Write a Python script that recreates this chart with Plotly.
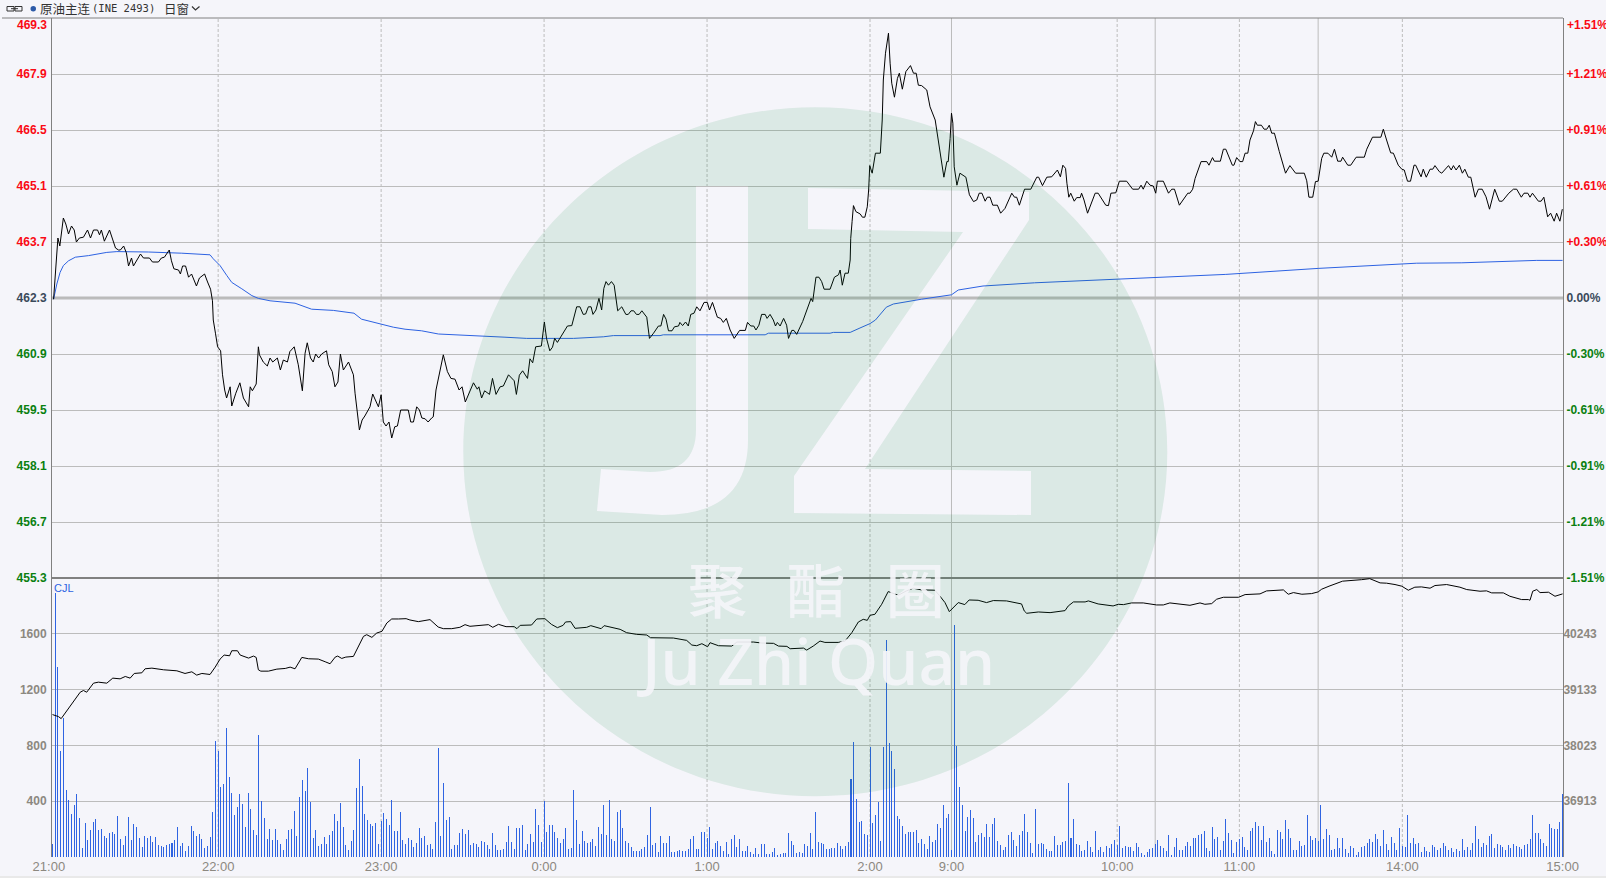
import plotly.graph_objects as go

# ---------- data ----------
volume = [96,1890,1360,760,995,480,410,308,372,452,280,62,243,120,192,250,272,192,200,150,135,170,178,164,294,128,84,150,287,120,236,214,135,70,150,135,150,106,142,84,77,70,84,92,99,120,214,77,99,41,77,222,186,150,164,128,63,77,142,323,829,757,504,525,923,576,460,301,359,453,381,214,460,345,193,157,872,402,280,128,200,120,200,120,92,48,128,193,200,330,150,431,554,475,641,395,135,193,77,92,142,92,157,186,308,258,388,214,84,48,113,193,496,706,511,308,265,236,222,243,92,258,316,272,229,410,186,186,
 325,122,94,137,122,72,101,209,137,151,86,94,58,252,778,151,533,266,288,58,86,86,173,202,166,194,86,101,94,72,115,108,86,58,173,86,50,50,58,108,223,108,58,209,209,230,50,94,166,108,346,230,108,403,180,230,230,180,137,101,130,209,58,65,482,266,94,187,115,101,108,130,79,216,166,374,158,410,130,115,324,338,209,115,101,72,43,43,43,58,72,158,360,86,101,36,151,101,101,151,36,36,43,50,43,43,58,130,151,58,58,180,180,137,216,58,101,115,79,43,108,22,130,158,72,130,43,43,79,36,22,65,22,94,94,22,22,36,65,14,22,29,29,173,115,86,29,36,
 29,94,79,173,58,324,108,101,94,58,58,65,65,101,79,58,79,108,562,821,418,252,259,166,158,792,245,302,396,115,792,1555,814,763,634,295,274,223,166,180,180,180,194,101,130,94,58,151,108,122,238,209,374,281,310,50,1663,799,504,374,187,288,338,281,108,158,173,144,238,144,238,281,115,86,50,72,158,180,122,79,158,187,310,180,101,29,346,94,101,94,58,43,43,151,86,86,108,115,533,137,274,94,86,43,50,115,72,36,187,50,72,36,79,65,94,122,86,223,65,79,72,72,43,101,72,29,14,36,58,65,94,122,79,65,43,158,14,72,137,50,50,
 79,108,79,137,137,158,166,187,65,43,216,130,144,50,115,274,173,122,29,108,130,144,72,50,187,209,252,223,122,223,108,137,43,22,194,180,130,266,202,137,50,50,115,79,86,302,151,122,137,115,374,130,202,158,50,58,137,65,137,58,29,79,65,14,36,72,79,101,130,108,166,130,79,
 193,92,48,142,99,48,207,77,70,301,99,135,92,99,34,70,41,34,84,70,48,63,99,77,48,63,34,55,41,128,48,70,48,99,222,128,70,99,84,149,164,63,92,84,70,48,84,63,92,77,70,55,84,92,128,301,171,171,128,99,77,236,207,200,200,250,453]

price_points = [
 (0.4,462.27),(1.1,462.88),(1.6,463.48),(2,463.8),(2.7,463.6),(3.3,463.94),(4,464.3),(4.9,464.15),(5.9,463.9),(7,464.1),(8,464.0),(8.8,463.7),(9.9,463.8),(11.4,463.82),(12.9,464.0),(14,463.8),(15.1,464),(16.6,464),(17.3,463.88),(18,464),(19.1,463.72),(21,464),(22.1,463.8),(23.2,463.55),(24.3,463.5),(25,463.5),(26.2,463.6),(27.2,463.43),(28,463.1),(29.1,463.3),(29.8,463.1),(30.9,463.22),(32.4,463.4),(33.5,463.3),(35.7,463.3),(36.8,463.2),(39,463.2),(40.1,463.3),(41.2,463.32),(43,463.5),(43.8,463.23),(44.7,463.03),(46.4,463),(47.1,462.9),(47.9,463.1),(49,463.1),(50.1,462.82),(51.2,462.9),(52.3,462.7),(53,462.6),(54.1,462.8),(56,462.9),(57.1,462.7),(58.2,462.52),(58.9,462.23),
 (59.2,461.75),(60,461.42),(60.8,461.08),(61.9,460.98),(62.6,460.38),(63.4,460),(64.1,459.8),(65.4,460.08),(66,459.6),(67.5,459.92),(69,460.18),(70.3,459.8),(72.2,459.58),(72.8,460.08),(73.6,459.98),(75,460.15),(75.4,460.5),(75.8,461.08),(76.2,460.88),(77.6,460.7),(79.1,460.6),(80.1,460.8),(81.1,460.7),(82.8,460.8),(83.9,460.5),(85,460.75),(86.5,460.7),(87.4,460.96),(89,461.08),(90.5,460.63),(92,459.98),(93,460.92),(93.8,461.18),(95,460.8),(96,460.7),(96.9,460.9),(98,460.8),(99.1,460.9),(100.9,460.98),(101.7,460.63),(103,460.46),(104,460.08),(105.1,460.2),(106,460.9),(107.1,460.5),(109,460.7),(110.8,460.38),(111.4,459.92),(113,459),(114,459.25),(115,459.35),(116.9,459.58),(117.9,459.9),(120,459.58),(121,459.88),(121.8,459.2),(122.8,459.1),(123.9,459.2),(124.9,458.8),(126,459.08),(127,459.1),(128.2,459.5),(131,459.5),(131.9,459.2),(132.9,459.2),(134.1,459.58),(135.1,459.5),(136,459.3),(137.2,459.28),(138.3,459.2),(139.6,459.3),(140.2,459.33),(141.2,460),
 (142.7,460.48),(143.9,460.88),(145.4,460.46),(146.7,460.29),(148.2,460.27),(149.7,460),(150.8,460.08),(152,459.7),(155,460.18),(156.4,460.02),(157,460.08),(158,459.8),(159.1,459.98),(160.9,459.89),(162,460.29),(163.3,459.89),(164.8,460.08),(166,460.1),(167.9,460.38),(170,460.23),(170.8,459.89),(171.9,460.37),(173.1,460.48),(174.9,460.29),(175.8,460.78),(176.8,460.68),(177.9,461.08),(180,461.1),(181.1,461.7),(181.9,461.29),(183.1,460.98),(184.1,461.07),(184.9,461.29),(185.9,461.19),(189.6,461.6),(191.2,461.61),(193,462.08),(194.2,462.08),(195.4,461.89),(196.3,461.9),(197.3,462.08),(198.3,462.08),(199,461.89),(200.1,462),(201.2,462.29),(202.2,462),(203,462.54),(203.8,462.71),(204.7,462.62),(205.8,462.71),(206.8,462.62),(207.4,462.31),(208.1,461.98),(209.6,462.08),(211.1,461.89),(212,461.89),(213,461.98),(214,461.98),(215,461.89),(216,461.89),(217,461.98),(218.8,461.82),(219.8,461.29),(221.3,461.42),(223.1,461.6),(224,461.6),(225,461.89),(225.9,461.77),(226.8,461.48),(228.1,461.48),(229,461.58),(230.5,461.6),(231,461.69),(232,461.61),(233.1,461.7),(234.1,461.6),(235,461.89),(236.2,461.92),(237.2,462.08),(238.4,461.98),(239.9,462.19),(241.1,462.19),(241.9,462),(243,462.19),(244.8,461.82),(246,461.79),(247,461.69),(248.1,461.79),(249.5,461.5),(251,461.29),(253,461.49),(255.1,461.49),(255.9,461.69),(257.1,461.6),(258.2,461.6),(259,461.5),(260.1,461.62),(261.1,461.89),(262.4,461.89),(263.1,461.79),(264.2,461.89),(265.4,461.75),(266.2,461.6),(266.9,461.69),(267.9,461.6),(269.2,461.79),(270.3,461.62),(271,461.29),(272.2,461.49),(273,461.49),(274,461.39),(276.2,461.71),(277.7,462),(279.3,462.29),(279.9,462.21),(281.1,462.82),(282.2,462.82),(283.2,462.71),(284.1,462.52),(286.3,462.52),(287.9,462.82),(289.4,462.88),(290,463),(290.8,462.62),(291.8,462.92),(293,462.92),(293.7,463.25),
 (293.9,463.79),(294.4,464.21),(294.9,464.61),(295.8,464.46),(297.4,464.4),(298.2,464.32),(299.1,464.32),(300,464.58),(300.5,465),(300.9,465.61),(301.8,465.42),(303,465.92),(304.8,465.92),(305.5,466.75),(305.9,467.75),(306.7,468.42),(307.2,468.67),(307.8,468.92),(308.4,468.17),(309,467.67),(310,467.32),(311.1,467.79),(311.8,467.92),(312.9,467.52),(314.2,467.96),(315.9,468.11),(317,467.92),(318,467.92),(318.8,467.62),(320,467.61),(321.9,467.5),(323.1,467.08),(325,466.75),(326.2,466.21),(327.1,465.83),(328.2,465.32),(329.3,465.71),(329.8,465.71),(330.5,466.29),(331,466.92),(331.5,466.67),(332,465.58),(333,465.12),(334.1,465.42),(336.3,465.32),(337.6,464.88),(339.1,464.71),(340.3,464.75),(341.2,464.92),(342.2,464.92),(343.4,464.72),(344.2,464.82),(345.2,464.82),(346.2,464.62),(347.9,464.62),(349.1,464.42),(350.7,464.54),(353.2,464.92),(354.2,464.82),(355,464.82),(356,464.62),(357.9,465.02),(360.2,465.02),(362.4,465.32),(363.1,465.32),(364.5,465.11),(366.1,465.32),(367.9,465.33),(370,465.5),(371.1,465.33),(372,465.62),(373,465.54),(373.5,465.17),(374.2,464.82),(374.9,464.92),(376.2,464.72),(377.1,464.81),(378.4,464.81),
 (378.9,464.92),(379.8,464.75),(381.1,464.42),(382.6,464.67),(383.9,464.92),(385,464.92),(386.3,464.79),(387.8,464.62),(388.8,464.61),(389.7,464.92),(391.5,464.93),(392.4,465.12),(392.8,465.22),(395.5,465.22),(397.7,465.02),(399.9,465.02),(400.8,465.12),(401.6,465.02),(402.9,465.22),(404.1,465.12),(405.3,465.1),(406.2,464.92),(406.8,465.22),(409,465.22),(410.9,464.92),(412.1,465.02),(413.1,465.02),(414.9,464.62),(418,464.92),(418.8,464.92),(419.8,465.02),(420.7,465.29),(422.9,465.71),(425,465.71),(425.8,465.62),(427.1,465.81),(427.8,465.72),(430,465.72),(431.1,466.02),(432,466.02),(434.4,465.62),(435,465.62),(436,465.81),(437.2,465.71),(438.2,465.71),(439.1,465.92),(440.1,465.92),(440.9,466.25),(442.2,466.48),(442.9,466.71),(443.6,466.62),(445.1,466.62),(446.1,466.52),(447.1,466.52),(448,466.62),(448.9,466.42),(449.9,466.42),(451.7,465.96),(454,465.42),(455.6,465.61),(457.7,465.42),(460.9,465.42),(461.8,465.23),(462.6,464.82),(464,464.82),(465,465.21),(466,465.22),(467.3,465.79),(468.1,465.92),(469.6,465.92),(471,465.82),(472,466.02),(473.2,465.72),(474.4,465.72),(475,465.82),(476.9,465.62),(478,465.62),(480,465.82),(483,465.82),(483.9,466.02),(486,466.32),(489.1,466.32),(490,466.52),(491.2,466.25),(492.7,465.93),(493.7,465.92),(495.5,465.62),(496.8,465.52),(497.7,465.5),(498.9,465.22),(500,465.22),(501.3,465.62),(501.9,465.62),(503.9,465.33),(504.7,465.52),(505.8,465.32),(507.2,465.52),(508.2,465.52),(509,465.61),(510.6,465.46),
 (511.5,465.42),(514,465.61),(515,465.5),(515.8,465.61),(516.8,465.5),(518,465.62),(519.1,465.42),(520,465.52),(521.3,465.32),(522.2,465.32),(523.8,464.82),(525,465.02),(526.4,465.02),(527.8,464.83),(529.1,464.52),(531,465.02),(532.7,464.72),(533.8,464.72),(536.2,464.92),(537.9,465.02),(539.1,465.02),(540.8,464.82),(541.8,464.92),(543.2,464.92),(544,464.82),(544.9,464.92),(547.1,464.72),(548.1,464.72),(549.1,464.82),(550.5,464.33),(551.6,464.42),(552.9,464.22),(553.8,464.42),(555,464.22),(555.9,464.52)]

average_points = [
 (0.4,462.27),(1.6,462.65),(2.8,462.94),(4,463.11),(5.9,463.23),(8.4,463.32),(13.3,463.36),(20,463.44),(23.7,463.46),(35.3,463.45),(47.6,463.42),(58,463.38),(59.2,463.28),(61.7,463.11),(64.2,462.86),(66,462.69),(69.7,462.53),(73.4,462.36),(75.8,462.29),(80.1,462.23),(89.3,462.17),(95.4,462.02),(103.4,461.99),(111,461.92),(113.8,461.77),(121.2,461.65),(125.5,461.57),(129.8,461.52),(135.9,461.48),(142.1,461.4),
 (145.8,461.39),(157.4,461.35),(166.6,461.32),(174.6,461.29),(191.8,461.29),(202.8,461.33),(206.5,461.36),(223.7,461.36),(224.9,461.38),(262.4,461.38),(263.6,461.42),(286.3,461.42),(287.5,461.44),(293.7,461.44),(295.5,461.5),(297.3,461.55),(301,461.66),(303,461.75),(307,462.07),(309.6,462.15),(320,462.27),(331,462.38),(333.5,462.5),(342.6,462.6),(361.6,462.68),(395,462.78),(407,462.8),(432,462.89),(466,463.04),(488.8,463.11),(494.9,463.14),(502.3,463.17),(518.9,463.18),(531.8,463.21),(546.5,463.24),(556,463.24)]

open_interest_points = [
 (0,38636),(2.2,38596),(3.2,38556),(5.3,38716),(7.7,38895),(10.2,39081),(11.4,39115),(12.6,39081),(15.1,39261),(16.9,39281),(20,39261),(22.2,39361),(24.9,39347),(26.8,39394),(28.6,39361),(30.1,39454),(32.9,39467),(34.1,39547),(36.6,39560),(40.9,39527),(45.8,39507),(48.8,39454),(51.3,39487),(53.1,39421),(55,39454),(58,39434),(59.9,39580),(61.7,39740),(63.2,39820),(65.2,39806),(66,39906),(68.1,39906),(69.1,39820),(72.2,39760),(74,39800),(75,39773),(75.8,39527),(76.7,39500),(79.5,39500),(82.6,39540),(85.7,39554),(87.5,39580),(89.3,39547),(91.8,39773),(94.3,39746),(97.9,39740),(100.4,39687),(102.2,39647),(104.1,39780),(105,39800),(106.5,39753),(108,39780),(110.8,39793),(112.7,39993),(114.5,40192),(115.7,40225),(117.6,40172),(119.4,40259),(121.3,40292),(123.1,40458),(124.9,40538),(127.4,40538),
 (130.2,40544),(131.6,40518),(134.7,40485),(139,40525),(142,40378),(143.9,40345),(147,40345),(150,40372),(151.9,40425),(153.7,40392),(160.5,40425),(162.1,40372),(164.2,40431),(167,40385),(170,40385),(171,40345),(172.2,40411),(176.4,40418),(178.3,40538),(181.3,40544),(183.7,40431),(185.9,40365),(188,40411),(188.9,40478),(190.8,40485),(192.4,40352),(196.7,40372),(198.2,40405),(202,40345),(203.1,40405),(206.6,40365),(209,40332),(211.4,40265),(215.1,40232),(218.8,40219),(220.2,40165),(228.6,40159),(233.5,40112),(235.4,40019),(237.2,40006),(239.1,40046),(241.2,39986),(242.1,40066),(245.2,40006),(250.1,39999),(252,40079),(258.1,40079),(261.2,40059),(265.5,40053),(267.3,39999),(270.4,39993),(271.6,39946),(276.5,39959),(277.7,39919),(280.1,39999),(282.6,40099),(284.4,40072),(289.3,40072),(291.8,40099),(294.3,40265),(296.7,40478),(298.5,40531),(300,40511),(301,40611),(302.8,40631),(305.3,40830),(307.7,41083),(311.4,41010),(314.4,41096),(316.9,41150),(319.9,41116),(324.9,41110),(326.7,40996),(328.6,40864),(330.2,40684),(331.6,40764),(333.5,40864),(335.9,40824),(337.5,40916),(340.8,40910),(343.9,40864),(346.4,40904),(351.3,40897),(356.8,40837),(357.8,40697),(358.7,40651),(363,40677),(367.3,40664),(372.8,40704),(374,40797),(375.9,40877),(380.2,40877),(381.4,40897),(385,40837),(390.5,40797),(392.4,40830),(394.3,40823),(397.3,40857),(401.6,40857),(406.5,40817),(409,40817),(411.4,40857),(415.1,40837),(418.8,40810),(422.5,40857),(424.3,40830),(426.8,40843),(428.6,40930),(431.1,40970),(436.7,40970),(439.1,41023),(444.6,41037),(447,41096),(453.2,41116),(455,41030),(456.9,41063),(460,41030),(463.6,41043),(466,41076),(467.3,41130),(470,41190),(475,41290),(482,41320),(485,41340),(488.8,41256),(491.2,41250),(494.3,41223),(496.8,41190),(499.2,41110),(501.6,41170),(504,41176),(507.2,41150),(509,41203),(513.3,41223),(518.2,41170),(520.7,41123),(525.6,41090),(528,41097),(529.9,41057),(534.2,41057),(536.6,40990),(540.9,40924),(543.4,40924),(544,40910),(545,41090),(546.5,41123),(547.7,41063),(550.8,41070),(553.2,40990),(556,41037)]

time_ticks = [0,61,121,181,241,301,331,392,437,497,556]
time_labels = ["21:00  ","22:00","23:00","0:00","1:00","2:00","9:00","10:00","11:00","14:00","15:00"]
dashed_minutes = [61,121,181,241,301,392,437,497]
solid_minutes = [331,406,466]

price_ticks = [467.9,466.5,465.1,463.7,462.3,460.9,459.5,458.1,456.7,455.3]
price_labels = ["467.9","466.5","465.1","463.7","462.3","460.9","459.5","458.1","456.7","455.3"]
percent_labels = ["+1.21%","+0.91%","+0.61%","+0.30%","0.00%","-0.30%","-0.61%","-0.91%","-1.21%","-1.51%"]
volume_ticks = [400,800,1200,1600]
volume_labels = ["400","800","1200","1600"]
oi_ticks = [36913,38023,39133,40243]
oi_labels = ["36913","38023","39133","40243"]
base_price = 462.3

# ---------- styling ----------
BG = "#f5f5fa"
GRID = "#bcbcbc"
AXIS = "#808080"
BLUE = "#2d62e2"
RED = "#fa0a14"
GREEN = "#0a8010"
DARK = "#3a4a5a"
GREY = "#8c8880"
W, H = 1606, 878
L, R, T, B = 52, 43, 18, 21
PW, PH = W - L - R, H - T - B
SPLIT = (857 - 578) / PH

def px(x):
    return (x - L) / PW
def py(y):
    return (H - B - y) / PH
def P(x, y):
    return f"{px(x):.5f},{py(y):.5f}"

def coloured(texts, values):
    out = []
    for t, v in zip(texts, values):
        c = RED if v > base_price else (GREEN if v < base_price else DARK)
        out.append(f'<span style="color:{c}">{t}</span>')
    return out

fig = go.Figure()
fig.add_trace(go.Bar(x=list(range(len(volume))), y=volume, xaxis="x", yaxis="y2", width=0.37,
                     marker=dict(color="rgba(45,98,226,0.99)", line=dict(width=0))))
fig.add_trace(go.Scatter(x=[p[0] for p in open_interest_points], y=[p[1] for p in open_interest_points],
                         xaxis="x", yaxis="y4", mode="lines", line=dict(color="#000000", width=1)))
fig.add_trace(go.Scatter(x=[p[0] for p in average_points], y=[p[1] for p in average_points],
                         xaxis="x", yaxis="y", mode="lines", line=dict(color=BLUE, width=1)))
fig.add_trace(go.Scatter(x=[p[0] for p in price_points], y=[p[1] for p in price_points],
                         xaxis="x", yaxis="y", mode="lines", line=dict(color="#000000", width=1)))

shapes = []
for m in dashed_minutes:
    shapes.append(dict(type="line", xref="x", yref="paper", x0=m, x1=m, y0=0, y1=1, layer="below",
                       line=dict(color=GRID, width=1, dash="3px,2px")))
for m in solid_minutes:
    shapes.append(dict(type="line", xref="x", yref="paper", x0=m, x1=m, y0=0, y1=1, layer="below",
                       line=dict(color=GRID, width=1)))
shapes.append(dict(type="line", xref="paper", yref="y", x0=0, x1=1, y0=base_price, y1=base_price, layer="below",
                   line=dict(color="#bababa", width=3)))
shapes.append(dict(type="line", xref="paper", yref="paper", x0=0, x1=1, y0=SPLIT, y1=SPLIT, layer="below",
                   line=dict(color=AXIS, width=2)))
# frame
shapes.append(dict(type="line", xref="paper", yref="paper", x0=px(2), x1=1, y0=1, y1=1, layer="below",
                   line=dict(color=AXIS, width=1)))
shapes.append(dict(type="rect", xref="paper", yref="paper", x0=px(0), x1=px(W), y0=py(876), y1=py(878), layer="below",
                   line=dict(width=0), fillcolor="#e9e9e9"))
# header icons
shapes.append(dict(type="rect", xref="paper", yref="paper", x0=px(7), x1=px(14), y0=py(11), y1=py(6.5),
                   line=dict(color="#333333", width=1), fillcolor="rgba(0,0,0,0)"))
shapes.append(dict(type="rect", xref="paper", yref="paper", x0=px(15), x1=px(22), y0=py(11), y1=py(6.5),
                   line=dict(color="#333333", width=1), fillcolor="rgba(0,0,0,0)"))
shapes.append(dict(type="line", xref="paper", yref="paper", x0=px(11), x1=px(18), y0=py(8.7), y1=py(8.7),
                   line=dict(color="#333333", width=1)))
shapes.append(dict(type="circle", xref="paper", yref="paper", x0=px(30.5), x1=px(36), y0=py(11.5), y1=py(6),
                   line=dict(width=0), fillcolor="#2c5aa8"))
shapes.append(dict(type="path", xref="paper", yref="paper",
                   path=f"M{P(192,6.5)} L{P(195.5,10)} L{P(199.5,6.5)}",
                   line=dict(color="#333333", width=1.2), fillcolor="rgba(0,0,0,0)"))

# watermark: translucent ellipse with the letters J and Z cut out
cx, cy, rx, ry = 815.3, 451.7, 352, 344.5
k = 0.5523
ellipse = (f"M{P(cx-rx,cy)} C{P(cx-rx,cy-k*ry)} {P(cx-k*rx,cy-ry)} {P(cx,cy-ry)} "
           f"C{P(cx+k*rx,cy-ry)} {P(cx+rx,cy-k*ry)} {P(cx+rx,cy)} "
           f"C{P(cx+rx,cy+k*ry)} {P(cx+k*rx,cy+ry)} {P(cx,cy+ry)} "
           f"C{P(cx-k*rx,cy+ry)} {P(cx-rx,cy+k*ry)} {P(cx-rx,cy)} Z")
letter_j = (f"M{P(696,186)} L{P(748,186)} L{P(748,440)} Q{P(748,515)} {P(662,515)} "
            f"L{P(597,511)} L{P(601,469)} L{P(650,472)} Q{P(696,472)} {P(696,430)} Z")
letter_z = (f"M{P(808,188)} L{P(1029,192)} L{P(1029,220)} L{P(865,469)} L{P(1031,471)} "
            f"L{P(1031,515)} L{P(794,513)} L{P(794,476)} L{P(963,232)} L{P(808,229)} Z")
shapes.append(dict(type="path", xref="paper", yref="paper", layer="above", fillrule="evenodd",
                   path=ellipse + " " + letter_j + " " + letter_z,
                   fillcolor="rgba(0,135,55,0.105)", line=dict(width=0)))

def note(text, x, y, size, color, anchor="left", font="Liberation Sans", weight=None):
    f = dict(size=size, color=color, family=font)
    if weight:
        f["weight"] = weight
    return dict(text=text, xref="paper", yref="paper", x=px(x), y=py(y), xanchor=anchor, yanchor="middle",
                showarrow=False, font=f, borderpad=0, borderwidth=0)

MARK = "rgba(244,244,249,0.92)"
annotations = [
    note("469.3", 46.5, 24.6, 12, RED, "right", weight="bold"),
    note("+1.51%", 1567, 24.6, 12, RED, "left", weight="bold"),
    note("CJL", 54, 588, 11, BLUE),
    note("原油主连", 40, 8, 12.5, "#333333", font="Noto Sans CJK SC"),
    note("(INE 2493)", 92, 8, 10.5, "#333333", font="DejaVu Sans Mono"),
    note("日窗", 164, 8, 12.5, "#333333", font="Noto Sans CJK SC"),
    note("聚\u00a0\u00a0\u00a0酯\u00a0\u00a0\u00a0圈", 816, 587, 59, MARK, "center", font="Noto Sans CJK SC", weight=500),
    note("Ju Zhi Quan", 816, 660, 64, MARK, "center", font="Noto Sans", weight=500),
]

tickfont = dict(family="Liberation Sans", size=12, color=GREY, weight="bold")
fig.update_layout(
    width=W, height=H, autosize=False, showlegend=False, hovermode=False, bargap=0, bargroupgap=0,
    paper_bgcolor=BG, plot_bgcolor=BG,
    margin=dict(l=L, r=R, t=T, b=B, pad=0),
    xaxis=dict(domain=[0, 1], range=[-0.18, 556.15], anchor="y2", tickmode="array", tickvals=time_ticks,
               ticktext=time_labels, showgrid=False, zeroline=False, ticks="", showline=False, automargin=False,
               tickangle=0, tickfont=dict(family="Liberation Sans", size=13, color=GREY), ticklabelstandoff=0),
    yaxis=dict(domain=[SPLIT, 1], range=[455.3, 469.3], anchor="x", tickmode="array", tickvals=price_ticks,
               ticktext=coloured(price_labels, price_ticks), showgrid=True, gridcolor=GRID, gridwidth=1, automargin=False,
               zeroline=False, showline=True, linecolor=AXIS, linewidth=1, ticks="", tickfont=tickfont,
               ticklabelstandoff=2),
    yaxis2=dict(domain=[0, SPLIT], range=[0, 2000], anchor="x", tickmode="array", tickvals=volume_ticks, automargin=False,
                ticktext=volume_labels, showgrid=True, gridcolor=GRID, gridwidth=1, zeroline=False,
                showline=True, linecolor=AXIS, linewidth=1, ticks="", tickfont=tickfont, ticklabelstandoff=2),
    yaxis3=dict(overlaying="y", side="right", range=[455.3, 469.3], anchor="x", tickmode="array", automargin=False,
                tickvals=price_ticks, ticktext=coloured(percent_labels, price_ticks), showgrid=False,
                zeroline=False, showline=True, linecolor=AXIS, linewidth=1, ticks="", tickfont=tickfont,
                ticklabelstandoff=0),
    yaxis4=dict(overlaying="y2", side="right", range=[35803, 41353], anchor="x", tickmode="array", automargin=False,
                tickvals=oi_ticks, ticktext=oi_labels, showgrid=False, zeroline=False, showline=True,
                linecolor=AXIS, linewidth=1, ticks="", tickfont=tickfont, ticklabelstandoff=-3),
    shapes=shapes, annotations=annotations,
)
# the percent axis needs a trace to be drawn
fig.add_trace(go.Scatter(x=[0], y=[base_price], xaxis="x", yaxis="y3", mode="markers", marker=dict(opacity=0), showlegend=False))

fig.write_html("out.html", config={"displayModeBar": False},
               post_script="document.body.style.margin='0';document.body.style.overflow='hidden';")
